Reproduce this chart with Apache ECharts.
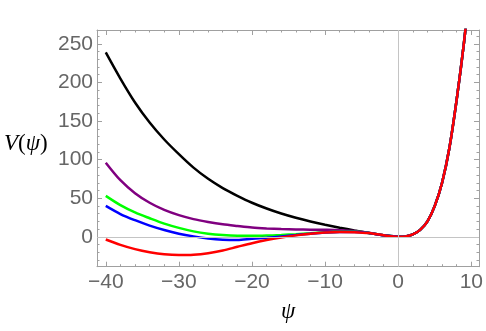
<!DOCTYPE html>
<html>
<head>
<meta charset="utf-8">
<script src="https://cdn.jsdelivr.net/npm/echarts@6/dist/echarts.min.js"></script>
<style>
  html, body { margin: 0; padding: 0; background: #fff; }
  #chart { width: 486px; height: 331px; }
</style>
</head>
<body>
<div id="chart"></div>
<script>
// psi sample points
const psiNeg = [-40, -38, -36, -34, -32, -30, -28, -26, -24, -22, -20, -18, -16, -14, -12, -10, -8, -6, -4, -2, 0]
const psiPos = [1, 2, 3, 4, 5, 6, 7, 8, 9, 10]

// V(psi) for psi <= 0, one array per curve
const vBlack = [239, 205.1, 174.1, 148.1, 126.1, 107.1, 89.6, 75.1, 63.1, 53.1, 44.1, 36.6, 30.1, 24.6, 19.8, 15.6, 11.8, 8.3, 5, 2, 0]
const vPurple = [96, 73.3, 56.5, 44.1, 34.8, 28, 22.9, 19.2, 16.2, 14, 12, 10.8, 10, 9.5, 9.2, 9, 8.6, 7.6, 5.2, 2, 0]
const vGreen = [53, 41, 31.5, 24, 17, 11.5, 7, 4, 2.2, 1.3, 1.2, 1.6, 2.4, 3.4, 4.6, 5.8, 6.6, 6.5, 5, 2, 0]
const vBlue = [40, 29.5, 21.5, 14.5, 8.8, 4, 0.5, -2.2, -3.8, -4.2, -2.6, -1.3, 0.4, 2.2, 4, 5.5, 6.2, 6.2, 5, 2, 0]
const vRed = [-3.5, -10.5, -16, -20, -22.7, -23.7, -23.3, -21.3, -17.8, -13, -8.3, -4.3, -1, 1.8, 4, 5.6, 6.3, 6, 4.8, 2, 0]
// psi > 0: all curves lie on top of each other
const vPos = [0.5, 3, 9, 20, 40, 70, 115, 178, 252, 340]

// ticks
const xMajor = [-40, -30, -20, -10, 0, 10]
const xMinor = [-40, -38, -36, -34, -32, -30, -28, -26, -24, -22, -20, -18, -16, -14, -12, -10, -8, -6, -4, -2, 0, 2, 4, 6, 8, 10]
const yMajor = [0, 50, 100, 150, 200, 250]
const yMinor = [-30, -20, -10, 0, 10, 20, 30, 40, 50, 60, 70, 80, 90, 100, 110, 120, 130, 140, 150, 160, 170, 180, 190, 200, 210, 220, 230, 240, 250, 260]

const curves = [
  { name: 'black', color: '#000000', v: vBlack },
  { name: 'purple', color: '#800080', v: vPurple },
  { name: 'green', color: '#00ff00', v: vGreen },
  { name: 'blue', color: '#0000ff', v: vBlue },
  { name: 'red', color: '#ff0000', v: vRed }
]

const frameColor = '#a0a0a0'
const labelColor = '#666666'

function makeData(v) {
  const pts = psiNeg.map((p, i) => [p, v[i]])
  return pts.concat(psiPos.map((p, i) => [p, vPos[i]]))
}

// one axis of the frame: either major ticks (+ labels) or minor ticks
function frameAxis(pos, ticks, len, withLine, withLabels, range) {
  return {
    type: 'value',
    position: pos,
    min: range[0],
    max: range[1],
    axisLine: { show: withLine, onZero: false, lineStyle: { color: frameColor, width: 1 } },
    axisTick: { show: true, inside: true, length: len, customValues: ticks, lineStyle: { color: frameColor, width: 1 } },
    axisLabel: {
      show: withLabels,
      customValues: ticks,
      color: labelColor,
      fontSize: 21,
      fontFamily: 'Liberation Sans',
      margin: pos === 'bottom' ? 5 : 4,
      formatter: (val) => String(val).replace('-', '\u2212')
    },
    splitLine: { show: false },
    minorTick: { show: false }
  }
}

const xRange = [-41.2, 11.05]
const yRange = [-38.8, 268]

const chart = echarts.init(document.getElementById('chart'))

const series = [{
  type: 'line',
  data: [],
  z: 1,
  silent: true,
  markLine: {
    silent: true,
    symbol: 'none',
    animation: false,
    label: { show: false },
    lineStyle: { color: '#c4c4c4', width: 1, type: 'solid' },
    data: [{ yAxis: 0 }, { xAxis: 0 }]
  }
}]
curves.forEach((c) => {
  series.push({
    name: c.name,
    type: 'line',
    data: makeData(c.v),
    smooth: 0.3,
    showSymbol: false,
    z: 2,
    lineStyle: { color: c.color, width: 2.5 },
    itemStyle: { color: c.color }
  })
})

chart.setOption({
  animation: false,
  backgroundColor: '#ffffff',
  grid: { left: 97, right: 6, top: 30, bottom: 64.3, containLabel: false },
  xAxis: [
    frameAxis('bottom', xMajor, 5, true, true, xRange),
    frameAxis('bottom', xMinor, 2.5, false, false, xRange),
    frameAxis('top', xMajor, 5, true, false, xRange),
    frameAxis('top', xMinor, 2.5, false, false, xRange)
  ],
  yAxis: [
    frameAxis('left', yMajor, 5, true, true, yRange),
    frameAxis('left', yMinor, 2.5, false, false, yRange),
    frameAxis('right', yMajor, 5, true, false, yRange),
    frameAxis('right', yMinor, 2.5, false, false, yRange)
  ],
  series: series,
  graphic: [
    {
      type: 'text',
      left: 4,
      top: 132,
      style: {
        text: '{i|V}{n|(}{i|ψ}{n|)}',
        rich: {
          i: { fontFamily: 'Liberation Serif', fontStyle: 'italic', fontSize: 23, fill: '#000' },
          n: { fontFamily: 'Liberation Serif', fontSize: 23, fill: '#000' }
        }
      }
    },
    {
      type: 'text',
      left: 281,
      top: 300,
      style: { text: 'ψ', fontFamily: 'Liberation Serif', fontStyle: 'italic', fontSize: 23, fill: '#000' }
    }
  ]
})
</script>
</body>
</html>
